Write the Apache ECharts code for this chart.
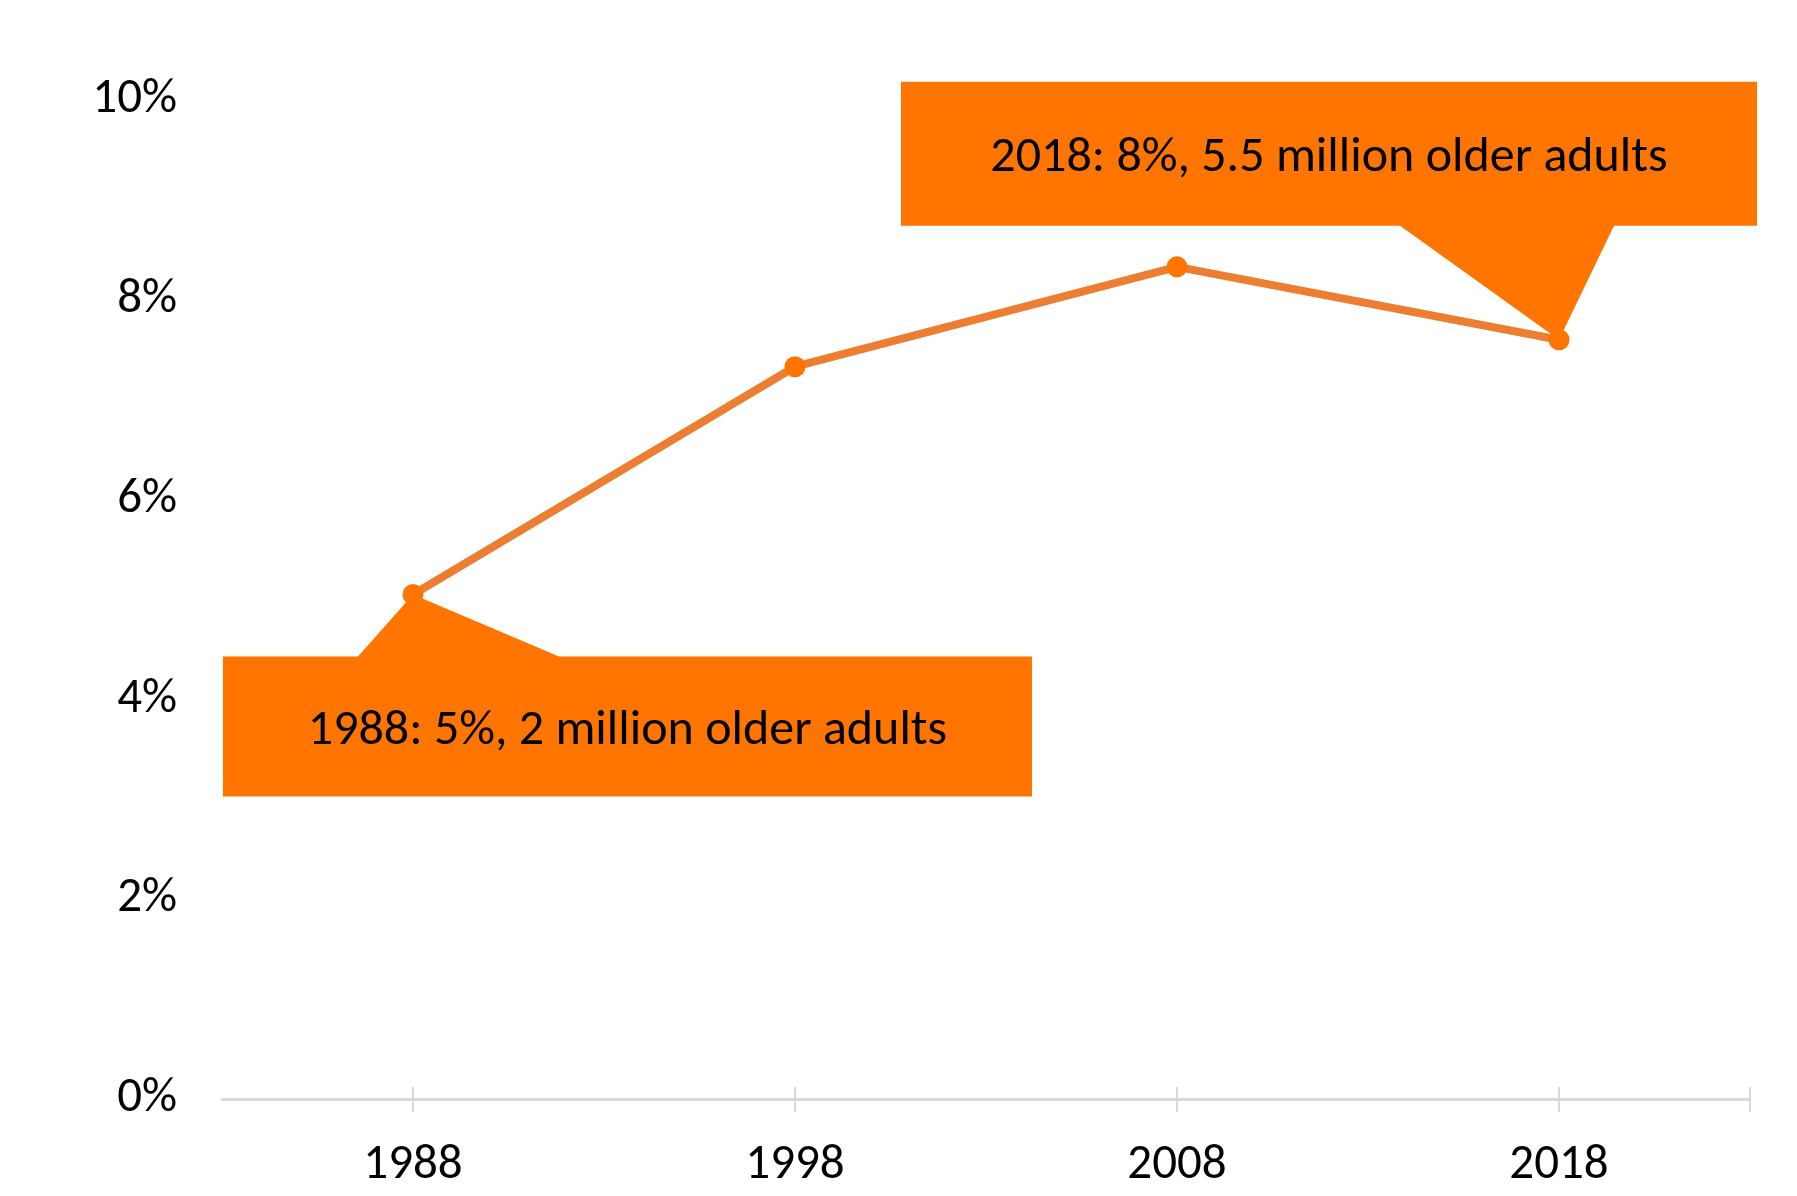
<!DOCTYPE html>
<html>
<head>
<meta charset="utf-8">
<style>
  html, body { margin: 0; padding: 0; background: #ffffff; }
  #chart { width: 1797px; height: 1196px; }
</style>
<script src="https://cdn.jsdelivr.net/npm/echarts@6/dist/echarts.min.js"></script>
</head>
<body>
<div id="chart"></div>
<script>
// ---- data ----
const categories = ['1988', '1998', '2008', '2018'];
const shareValues = [5.05, 7.33, 8.33, 7.60];
const yAxisMin = 0;
const yAxisMax = 10;
const yAxisInterval = 2;
const calloutTexts = ['1988: 5%, 2 million older adults', '2018: 8%, 5.5 million older adults'];
const calloutIndex = [0, 3];
const endTickSlots = ['', '', '', '', ''];

// ---- styles ----
const FONT = 'Carlito, Calibri, Lato, sans-serif';
const AXIS_GRAY = '#D9D9D9';
const LINE_COLOR = '#ED7D31';
const CALLOUT_COLOR = '#FF7500';

const chart = echarts.init(document.getElementById('chart'), null, { renderer: 'canvas' });

const hiddenAxisBase = {
  type: 'category',
  position: 'bottom',
  axisLine: { show: false },
  axisLabel: { show: false },
  splitLine: { show: false }
};

chart.setOption({
  animation: false,
  backgroundColor: '#ffffff',
  grid: { left: 222, right: 47, top: 100, bottom: 97, containLabel: false },
  xAxis: [
    {
      type: 'category',
      position: 'bottom',
      data: categories,
      boundaryGap: true,
      axisLine: { show: true, lineStyle: { color: AXIS_GRAY, width: 3 } },
      axisTick: { show: true, alignWithLabel: true, length: 13, lineStyle: { color: AXIS_GRAY, width: 2 } },
      axisLabel: { color: '#000000', fontFamily: FONT, fontSize: 49, margin: 42 },
      splitLine: { show: false }
    },
    Object.assign({}, hiddenAxisBase, {
      data: categories,
      boundaryGap: true,
      axisTick: { show: true, inside: true, alignWithLabel: true, length: 12, lineStyle: { color: AXIS_GRAY, width: 2 } }
    }),
    Object.assign({}, hiddenAxisBase, {
      data: endTickSlots,
      boundaryGap: false,
      axisTick: { show: true, interval: function (i) { return i === 4; }, length: 13, lineStyle: { color: AXIS_GRAY, width: 2 } }
    }),
    Object.assign({}, hiddenAxisBase, {
      data: endTickSlots,
      boundaryGap: false,
      axisTick: { show: true, inside: true, interval: function (i) { return i === 4; }, length: 12, lineStyle: { color: AXIS_GRAY, width: 2 } }
    })
  ],
  yAxis: {
    type: 'value',
    min: yAxisMin,
    max: yAxisMax,
    interval: yAxisInterval,
    axisLine: { show: false },
    axisTick: { show: false },
    splitLine: { show: false },
    axisLabel: {
      color: '#000000',
      fontFamily: FONT,
      fontSize: 49,
      margin: 45,
      padding: [12, 0, 0, 0],
      formatter: function (v) { return v + '%'; }
    }
  },
  series: [{
    type: 'line',
    xAxisIndex: 0,
    yAxisIndex: 0,
    data: shareValues,
    z: 5,
    lineStyle: { color: LINE_COLOR, width: 8 },
    symbol: 'circle',
    symbolSize: 21,
    itemStyle: { color: CALLOUT_COLOR },
    emphasis: { disabled: true }
  }]
});

// ---- callouts anchored at data points ----
function tipOf(idx) {
  return chart.convertToPixel({ xAxisIndex: 0, yAxisIndex: 0 }, [categories[idx], shareValues[idx]]);
}

const TEXT_FONT = '50px ' + FONT;
const TEXT_DY = 5;

function calloutBelow(tip, box, baseL, baseR, text) {
  const L = tip[0] + box.l, R = tip[0] + box.r, T = tip[1] + box.t, B = tip[1] + box.b;
  return [
    { type: 'polygon', z: 1, silent: true,
      shape: { points: [[L, T], [tip[0] + baseL, T], [tip[0], tip[1]], [tip[0] + baseR, T], [R, T], [R, B], [L, B]] },
      style: { fill: CALLOUT_COLOR } },
    { type: 'text', z: 2, silent: true, x: (L + R) / 2, y: (T + B) / 2 + TEXT_DY,
      style: { text: text, fill: '#000000', font: TEXT_FONT, align: 'center', verticalAlign: 'middle' } }
  ];
}

function calloutAbove(tip, box, baseL, baseR, text) {
  const L = tip[0] + box.l, R = tip[0] + box.r, T = tip[1] + box.t, B = tip[1] + box.b;
  return [
    { type: 'polygon', z: 1, silent: true,
      shape: { points: [[L, T], [R, T], [R, B], [tip[0] + baseR, B], [tip[0], tip[1]], [tip[0] + baseL, B], [L, B]] },
      style: { fill: CALLOUT_COLOR } },
    { type: 'text', z: 2, silent: true, x: (L + R) / 2, y: (T + B) / 2 + TEXT_DY,
      style: { text: text, fill: '#000000', font: TEXT_FONT, align: 'center', verticalAlign: 'middle' } }
  ];
}

const tip1 = tipOf(calloutIndex[0]);
const tip2 = tipOf(calloutIndex[1]);
const graphics = []
  .concat(calloutBelow(tip1, { l: -190, r: 619, t: 62, b: 202 }, -55, 146, calloutTexts[0]))
  .concat(calloutAbove(tip2, { l: -658, r: 198, t: -258, b: -114 }, -159, 55, calloutTexts[1]));

chart.setOption({ graphic: graphics });
</script>
</body>
</html>
